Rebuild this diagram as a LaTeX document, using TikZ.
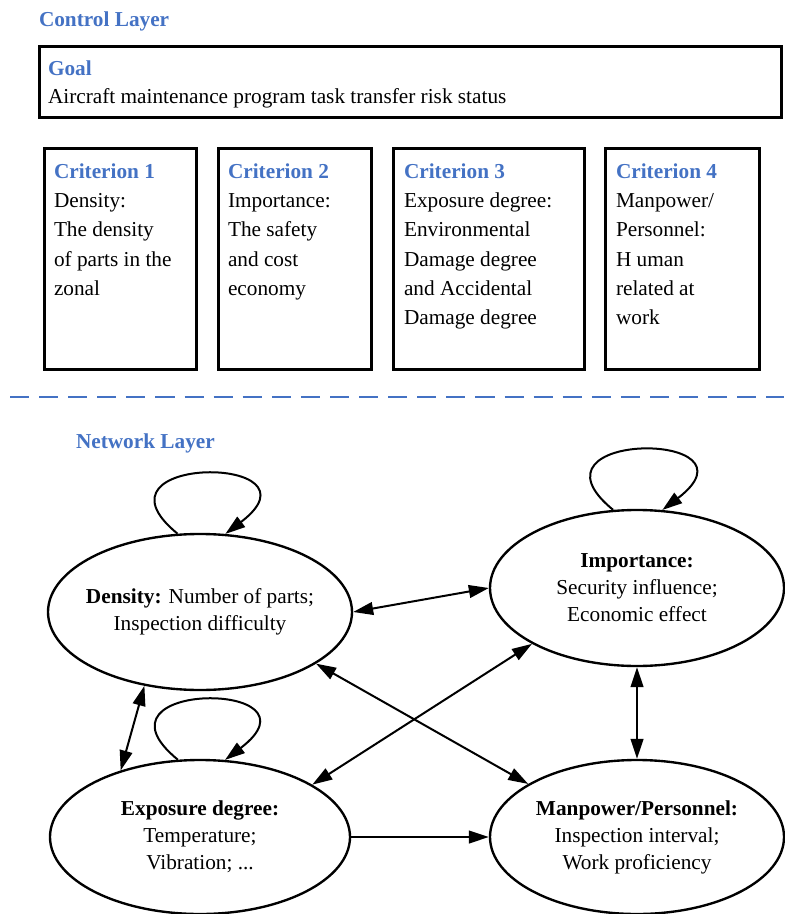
\documentclass[tikz,border=0pt]{standalone}
\usepackage{fontspec}
\setmainfont{Liberation Serif}
\usetikzlibrary{positioning,calc}
\usetikzlibrary{arrows.meta, shapes}
\definecolor{layerblue}{RGB}{68,114,196}

\begin{document}
\begin{tikzpicture}[x = 0.55pt, y = -0.55pt, > = {Triangle[length = 11pt, width = 7pt]}, line width = 1.1pt, font = \fontsize{11.7}{16}\selectfont]
\tikzstyle{box}=[
  draw = black,
  line width = 1.5pt,
  inner sep = 0pt,
  anchor = north west
]
\tikzstyle{boxtext}=[anchor = north west, align = left, inner sep = 0pt]
\tikzstyle{layer}=[text = layerblue, font = \fontsize{11.7}{16}\selectfont\bfseries, anchor = base west, inner sep = 0pt]
\tikzstyle{factor}=[
  ellipse,
  draw = black,
  line width = 1.3pt,
  inner sep = 0pt
]
\tikzstyle{factortext}=[align = center, inner sep = 0pt, font = \fontsize{11.7}{14.8}\selectfont]

\useasboundingbox (0,0) rectangle (784,914);

% control layer
\node[layer] (CL) at (38,27) {Control Layer};
\node[box, minimum width = 408pt, minimum height = 39pt] (G) at (38,45) {};
\node[layer] (Ghead) at (47,76) {Goal};
\node[anchor = base west, inner sep = 0pt] (Gtext) at (47,104) {Aircraft maintenance program task transfer risk status};

\node[box, minimum width = 83.6pt, minimum height = 121.5pt] (C1) at (43,147) {};
\node[box, minimum width = 84.2pt, minimum height = 121.5pt] (C2) at (217,147) {};
\node[box, minimum width = 105pt, minimum height = 121.5pt] (C3) at (392,147) {};
\node[box, minimum width = 84.7pt, minimum height = 121.5pt] (C4) at (604,147) {};

\node[boxtext] (C1text) at (53,163) {\textcolor{layerblue}{\bfseries Criterion 1}\\Density:\\The density\\of parts in the\\zonal};
\node[boxtext] (C2text) at (227,163) {\textcolor{layerblue}{\bfseries Criterion 2}\\Importance:\\The safety\\and cost\\economy};
\node[boxtext] (C3text) at (403,163) {\textcolor{layerblue}{\bfseries Criterion 3}\\Exposure degree:\\Environmental\\Damage degree\\and Accidental\\Damage degree};
\node[boxtext] (C4text) at (615,163) {\textcolor{layerblue}{\bfseries Criterion 4}\\Manpower/\\Personnel:\\H uman\\related at\\work};

% separation line
\coordinate (sepL) at (10,397);
\coordinate (sepR) at (784,397);
\draw[layerblue, line width = 1.6pt, dash pattern = on 10.5pt off 5.5pt] (sepL) -- (sepR);

% network layer
\node[layer] (NL) at (75,448) {Network Layer};

\node[factor, minimum width = 167.2pt, minimum height = 85.8pt] (D) at (200,612) {};
\node[factor, minimum width = 161.7pt, minimum height = 85.8pt] (I) at (637,588) {};
\node[factor, minimum width = 165pt, minimum height = 84.7pt] (E) at (200,837) {};
\node[factor, minimum width = 161.7pt, minimum height = 84.7pt] (M) at (637,837) {};

\node[factortext] (Dtext) at (D) {\textbf{Density:} Number of parts;\\Inspection difficulty};
\node[factortext] (Itext) at (I) {\textbf{Importance:}\\Security influence;\\Economic effect};
\node[factortext] (Etext) at (E) {\textbf{Exposure degree:}\\Temperature;\\Vibration; ...};
\node[factortext] (Mtext) at (M) {\textbf{Manpower/Personnel:}\\Inspection interval;\\Work proficiency};

% self loops
\draw[->] (D.106) .. controls +(-98,-80) and +(105,-80) .. (D.72);
\draw[->] (I.107) .. controls +(-98,-80) and +(105,-80) .. (I.72);
\draw[->] (E.106) .. controls +(-98,-80) and +(105,-80) .. (E.72);

\path[<->] (D.east) edge (I.west);
\path[<->] (I.208) edge (E.25);
\path[<->] (D.336) edge (M.154);
\path[<->] (I.south) edge (M.north);
\path[<->] (D.233) edge (E.140);
\path[->] (E.east) edge (M.west);
\end{tikzpicture}
\end{document}
